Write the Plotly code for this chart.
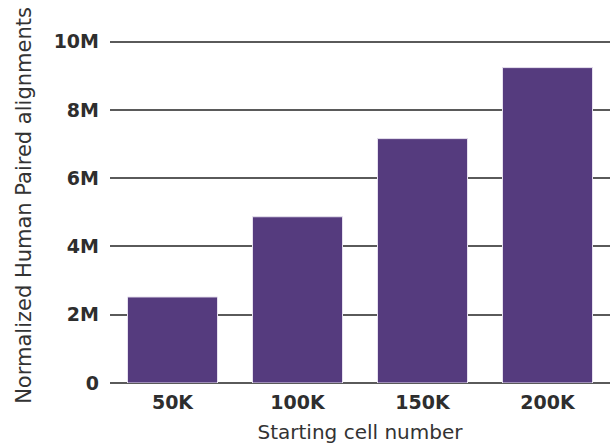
import plotly.graph_objects as go

categories = ["50K", "100K", "150K", "200K"]
alignments = [2.52e6, 4.87e6, 7.16e6, 9.24e6]
tick_values = [0, 2e6, 4e6, 6e6, 8e6, 10e6]
tick_labels = ["0", "2M", "4M", "6M", "8M", "10M"]

tick_font = dict(family="DejaVu Sans", size=19, weight="bold", color="#2e2e2e")

fig = go.Figure(
    go.Bar(
        x=categories,
        y=alignments,
        marker_color="#553b7e",
        marker_line=dict(color="#e6e0ee", width=1),
    )
)

fig.update_layout(
    width=611,
    height=445,
    margin=dict(l=110, r=1, t=28, b=62),
    plot_bgcolor="white",
    paper_bgcolor="white",
    bargap=0.28,
    showlegend=False,
)

fig.update_xaxes(
    automargin=False,
    showgrid=False,
    showline=False,
    tickfont=tick_font,
    ticklabelstandoff=6,
    title=dict(
        text="Starting cell number",
        font=dict(family="DejaVu Sans", size=20, color="#333333"),
        standoff=12,
    ),
)

fig.update_yaxes(
    automargin=False,
    range=[0, 10.4e6],
    tickvals=tick_values,
    ticktext=tick_labels,
    showgrid=True,
    gridcolor="#5a5a5a",
    gridwidth=1.5,
    zeroline=True,
    zerolinecolor="#5a5a5a",
    zerolinewidth=1.5,
    tickfont=tick_font,
    ticklabelstandoff=10,
    title=dict(
        text="Normalized Human Paired alignments",
        font=dict(family="DejaVu Sans", size=21, color="#333333"),
        standoff=16,
    ),
)

# drop the browser's default body margin so the figure sits at the page origin
fig.write_html(
    "out.html",
    config={"displayModeBar": False},
    post_script="document.body.style.margin = '0';",
)
